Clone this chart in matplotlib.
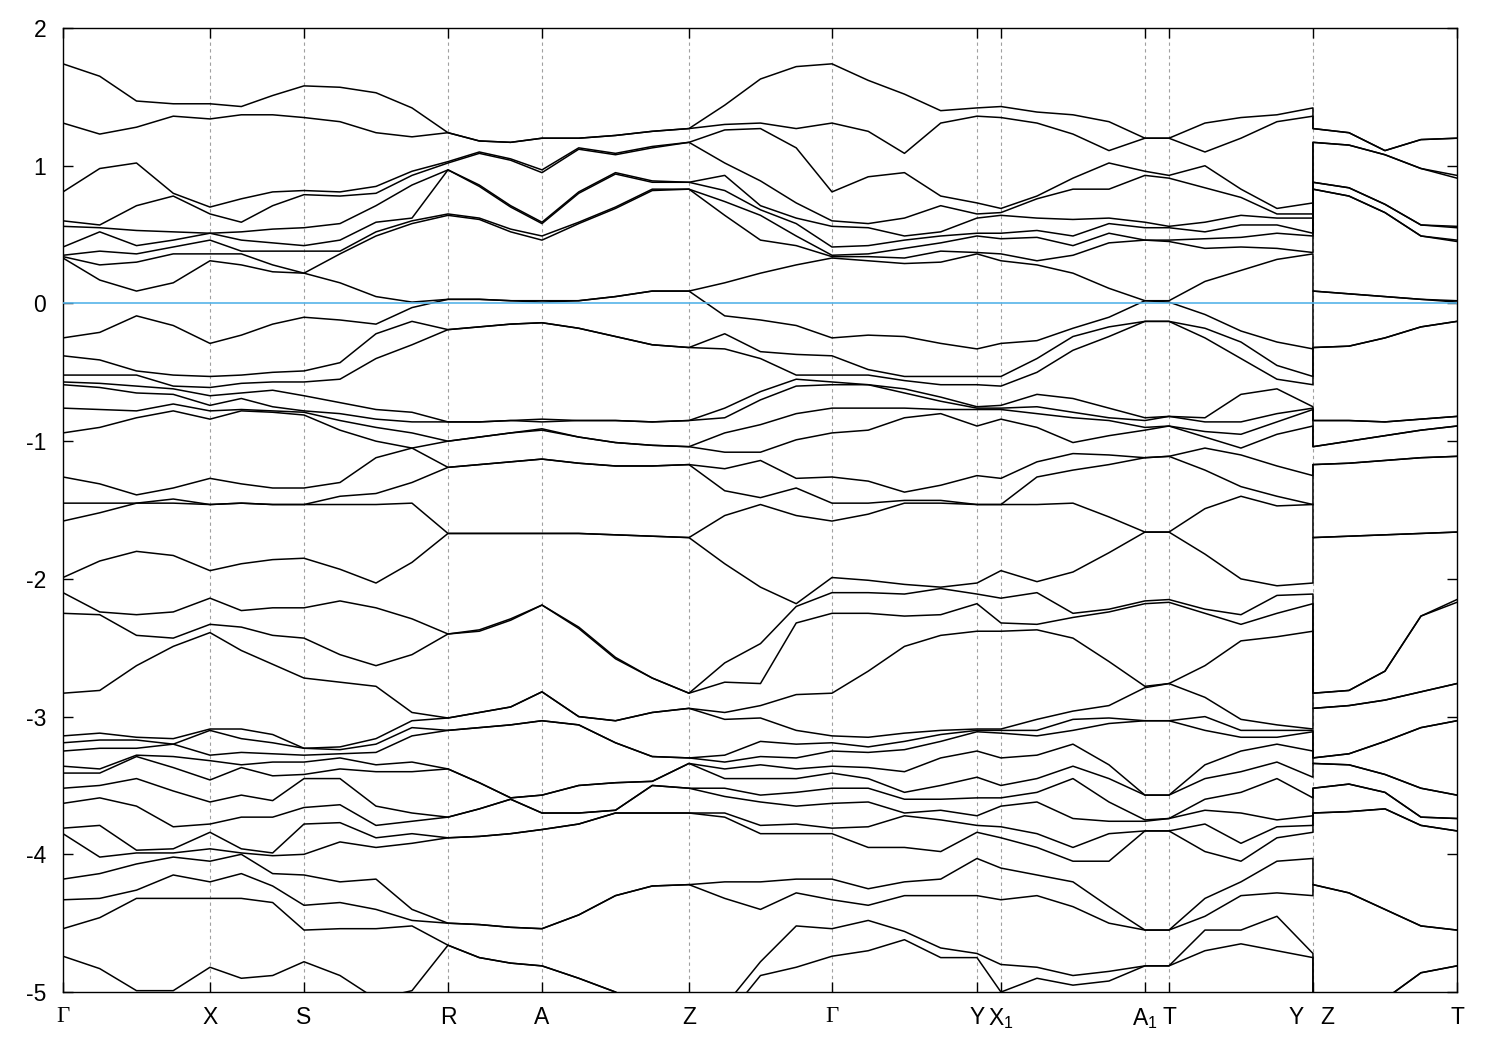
import numpy as np
import matplotlib
matplotlib.use('Agg')
import matplotlib.pyplot as plt

plt.rcParams['font.family'] = ['Liberation Sans', 'DejaVu Sans']
plt.rcParams['axes.unicode_minus'] = False

# path: high-symmetry points (distance along the path) and sampled points between them
k_points = [0, 147, 241, 385, 479, 626, 769, 914, 938, 1082, 1106, 1250, 1250, 1394]
n_between = [3, 2, 3, 2, 3, 3, 3, 0, 3, 0, 3, 0, 3]   # extra samples per segment

tick_pos = [0, 147, 241, 385, 479, 626, 769, 914, 938, 1082, 1106, 1250, 1394]
tick_lab = ['Γ', 'X', 'S', 'R', 'A', 'Z', 'Γ', 'Y', r'X$_\mathregular{1}$',
            r'A$_\mathregular{1}$', 'T', '', 'T']

# band energies (eV) read at each sample point, one list per k sample
G = [1.74, 1.31, 0.81, 0.60, 0.56, 0.41, 0.35, 0.34, 0.33,
     -0.25, -0.38, -0.52, -0.57, -0.59, -0.76, -0.94, -1.26, -1.45, -1.58, -1.99, -2.10, -2.25, -2.83,
     -3.14, -3.19, -3.25, -3.36, -3.41, -3.52, -3.63, -3.81, -3.85, -4.18, -4.33, -4.54, -4.74]
GX1 = [1.65, 1.23, 0.98, 0.57, 0.55, 0.52, 0.38, 0.28, 0.17,
       -0.21, -0.41, -0.52, -0.58, -0.61, -0.77, -0.90, -1.31, -1.45, -1.52, -1.87, -2.24, -2.26, -2.81,
       -3.12, -3.17, -3.23, -3.38, -3.41, -3.50, -3.59, -3.79, -4.02, -4.14, -4.32, -4.46, -4.83]
GX2 = [1.47, 1.28, 1.02, 0.71, 0.53, 0.42, 0.36, 0.30, 0.09,
       -0.09, -0.49, -0.52, -0.60, -0.65, -0.78, -0.83, -1.39, -1.45, -1.45, -1.80, -2.26, -2.41, -2.63,
       -3.15, -3.17, -3.23, -3.28, -3.29, -3.45, -3.65, -3.97, -3.99, -4.07, -4.26, -4.32, -4.99]
GX3 = [1.45, 1.36, 0.80, 0.78, 0.52, 0.46, 0.41, 0.36, 0.15,
       -0.16, -0.52, -0.60, -0.62, -0.66, -0.73, -0.78, -1.34, -1.42, -1.45, -1.83, -2.24, -2.43, -2.49,
       -3.16, -3.20, -3.20, -3.29, -3.37, -3.54, -3.80, -3.96, -3.99, -4.02, -4.15, -4.32, -4.99]
X = [1.45, 1.34, 0.70, 0.65, 0.51, 0.51, 0.46, 0.36, 0.31,
     -0.29, -0.53, -0.61, -0.67, -0.74, -0.78, -0.84, -1.27, -1.46, -1.46, -1.94, -2.14, -2.33, -2.39,
     -3.09, -3.10, -3.28, -3.32, -3.46, -3.62, -3.78, -3.84, -3.96, -4.05, -4.20, -4.32, -4.82]
XS1 = [1.43, 1.37, 0.76, 0.59, 0.52, 0.46, 0.38, 0.36, 0.28,
       -0.23, -0.52, -0.58, -0.65, -0.69, -0.77, -0.78, -1.31, -1.45, -1.45, -1.89, -2.23, -2.35, -2.52,
       -3.09, -3.16, -3.26, -3.35, -3.37, -3.57, -3.73, -3.96, -3.99, -4.00, -4.14, -4.32, -4.90]
XS2 = [1.51, 1.37, 0.81, 0.71, 0.54, 0.44, 0.38, 0.28, 0.23,
       -0.15, -0.50, -0.57, -0.63, -0.75, -0.78, -0.79, -1.34, -1.46, -1.46, -1.86, -2.21, -2.41, -2.62,
       -3.13, -3.19, -3.27, -3.33, -3.43, -3.61, -3.73, -3.99, -4.01, -4.14, -4.23, -4.35, -4.88]
S = [1.58, 1.35, 0.82, 0.79, 0.55, 0.42, 0.38, 0.22, 0.22,
     -0.10, -0.49, -0.57, -0.67, -0.78, -0.79, -0.81, -1.34, -1.46, -1.46, -1.85, -2.21, -2.43, -2.72,
     -3.23, -3.23, -3.28, -3.33, -3.42, -3.45, -3.66, -3.78, -4.00, -4.15, -4.37, -4.55, -4.78]
SR1 = [1.57, 1.32, 0.81, 0.78, 0.58, 0.46, 0.38, 0.36, 0.15,
       -0.12, -0.43, -0.55, -0.72, -0.80, -0.85, -0.92, -1.30, -1.40, -1.46, -1.93, -2.16, -2.55, -2.75,
       -3.22, -3.24, -3.27, -3.30, -3.38, -3.45, -3.64, -3.77, -3.91, -4.20, -4.35, -4.54, -4.88]
SR2 = [1.53, 1.24, 0.85, 0.80, 0.71, 0.59, 0.52, 0.49, 0.05,
       -0.15, -0.22, -0.40, -0.77, -0.84, -0.90, -1.00, -1.12, -1.38, -1.46, -2.03, -2.21, -2.63, -2.78,
       -3.16, -3.20, -3.26, -3.35, -3.40, -3.65, -3.79, -3.88, -3.95, -4.18, -4.40, -4.54, -5.05]
SR3 = [1.42, 1.21, 0.96, 0.93, 0.86, 0.62, 0.60, 0.58, 0.01, -0.03,
       -0.13, -0.30, -0.79, -0.86, -0.94, -1.05, -1.05, -1.30, -1.45, -1.88, -2.29, -2.55,
       -2.97, -3.03, -3.08, -3.14, -3.33, -3.40, -3.70, -3.76, -3.85, -3.92, -4.40, -4.48, -4.52, -4.99]
R = [1.24, 1.24, 1.03, 1.02, 0.97, 0.97, 0.65, 0.64, 0.03, 0.03,
     -0.19, -0.19, -0.86, -0.86, -1.00, -1.00, -1.19, -1.19, -1.67, -1.67, -2.40, -2.40,
     -3.01, -3.01, -3.10, -3.10, -3.38, -3.38, -3.73, -3.73, -3.88, -3.88, -4.50, -4.50, -4.66, -4.66]
RA1 = [1.18, 1.18, 1.10, 1.09, 0.86, 0.85, 0.62, 0.61, 0.03, 0.03,
       -0.17, -0.17, -0.86, -0.86, -0.97, -0.97, -1.17, -1.17, -1.67, -1.67, -2.38, -2.37,
       -2.97, -2.97, -3.08, -3.08, -3.48, -3.48, -3.67, -3.67, -3.87, -3.87, -4.51, -4.51, -4.75, -4.75]
RA2 = [1.17, 1.17, 1.05, 1.04, 0.71, 0.70, 0.54, 0.52, 0.02, 0.02,
       -0.15, -0.15, -0.85, -0.85, -0.94, -0.94, -1.15, -1.15, -1.67, -1.67, -2.30, -2.29,
       -2.93, -2.93, -3.06, -3.06, -3.59, -3.59, -3.60, -3.60, -3.85, -3.85, -4.53, -4.53, -4.79, -4.79]
A = [1.20, 1.20, 0.97, 0.95, 0.59, 0.58, 0.49, 0.46, 0.02, 0.01,
     -0.14, -0.14, -0.84, -0.86, -0.91, -0.92, -1.13, -1.13, -1.67, -1.67, -2.19, -2.19,
     -2.82, -2.82, -3.03, -3.03, -3.57, -3.57, -3.70, -3.70, -3.82, -3.82, -4.54, -4.54, -4.81, -4.81]
AZ1 = [1.20, 1.20, 1.13, 1.12, 0.81, 0.80, 0.59, 0.58, 0.02, 0.02,
       -0.18, -0.18, -0.85, -0.85, -0.97, -0.97, -1.16, -1.16, -1.67, -1.67, -2.36, -2.35,
       -3.00, -3.00, -3.06, -3.06, -3.50, -3.50, -3.70, -3.70, -3.78, -3.78, -4.44, -4.44, -4.90, -4.90]
AZ2 = [1.22, 1.22, 1.09, 1.08, 0.95, 0.94, 0.70, 0.69, 0.05, 0.05,
       -0.24, -0.24, -0.85, -0.85, -1.01, -1.01, -1.18, -1.18, -1.68, -1.68, -2.58, -2.57,
       -3.03, -3.03, -3.19, -3.19, -3.48, -3.48, -3.68, -3.68, -3.70, -3.70, -4.30, -4.30, -5.00, -5.00]
AZ3 = [1.25, 1.25, 1.14, 1.13, 0.89, 0.88, 0.83, 0.82, 0.09, 0.09,
       -0.30, -0.30, -0.86, -0.86, -1.03, -1.03, -1.18, -1.18, -1.69, -1.69, -2.72, -2.72,
       -2.97, -2.97, -3.29, -3.29, -3.47, -3.47, -3.50, -3.50, -3.70, -3.70, -4.23, -4.23, -5.15, -5.15]
Z = [1.27, 1.27, 1.17, 1.17, 0.88, 0.88, 0.83, 0.83, 0.09, 0.09,
     -0.32, -0.32, -0.85, -0.85, -1.04, -1.04, -1.17, -1.17, -1.70, -1.70, -2.83, -2.83,
     -2.94, -2.94, -3.30, -3.30, -3.34, -3.34, -3.52, -3.52, -3.70, -3.70, -4.22, -4.22, -5.25, -5.25]
ZG1 = [1.44, 1.30, 1.26, 1.02, 0.93, 0.82, 0.74, 0.64, 0.15,
       -0.09, -0.22, -0.33, -0.76, -0.83, -0.94, -1.08, -1.20, -1.36, -1.54, -1.89, -2.61, -2.75,
       -2.97, -3.02, -3.28, -3.33, -3.38, -3.45, -3.52, -3.58, -3.70, -3.73, -4.20, -4.32, -5.10, -5.20]
ZG2 = [1.63, 1.31, 1.27, 0.89, 0.71, 0.68, 0.64, 0.46, 0.22,
       -0.12, -0.35, -0.40, -0.64, -0.70, -0.88, -1.08, -1.14, -1.41, -1.46, -2.06, -2.47, -2.76,
       -2.92, -3.01, -3.18, -3.29, -3.35, -3.45, -3.57, -3.62, -3.79, -3.85, -4.20, -4.40, -4.78, -4.88]
ZG3 = [1.72, 1.27, 1.13, 0.73, 0.62, 0.58, 0.49, 0.42, 0.28,
       -0.16, -0.37, -0.52, -0.55, -0.60, -0.80, -0.99, -1.27, -1.34, -1.54, -2.18, -2.20, -2.32, -2.84,
       -3.10, -3.20, -3.30, -3.38, -3.45, -3.55, -3.65, -3.78, -3.85, -4.18, -4.28, -4.52, -4.82]
GY1 = [1.62, 1.25, 0.92, 0.58, 0.55, 0.42, 0.36, 0.34, 0.31,
       -0.23, -0.48, -0.52, -0.59, -0.59, -0.76, -0.92, -1.29, -1.45, -1.53, -2.01, -2.10, -2.25, -2.67,
       -3.15, -3.22, -3.26, -3.37, -3.45, -3.52, -3.62, -3.80, -3.95, -4.25, -4.37, -4.48, -4.70]
GY2 = [1.52, 1.09, 0.95, 0.62, 0.49, 0.46, 0.40, 0.33, 0.29,
       -0.24, -0.53, -0.56, -0.62, -0.65, -0.76, -0.83, -1.37, -1.43, -1.45, -2.04, -2.11, -2.27, -2.49,
       -3.12, -3.18, -3.24, -3.40, -3.55, -3.60, -3.70, -3.72, -3.95, -4.20, -4.30, -4.56, -4.62]
GY3 = [1.40, 1.31, 0.78, 0.71, 0.52, 0.49, 0.44, 0.38, 0.30,
       -0.29, -0.53, -0.59, -0.68, -0.71, -0.77, -0.80, -1.32, -1.43, -1.45, -2.06, -2.07, -2.26, -2.41,
       -3.10, -3.13, -3.18, -3.30, -3.50, -3.60, -3.68, -3.75, -3.98, -4.18, -4.30, -4.68, -4.75]
Y = [1.42, 1.36, 0.73, 0.65, 0.62, 0.51, 0.49, 0.37, 0.36,
     -0.33, -0.53, -0.59, -0.75, -0.76, -0.77, -0.89, -1.25, -1.46, -1.46, -2.03, -2.11, -2.18, -2.38,
     -3.09, -3.10, -3.11, -3.25, -3.44, -3.59, -3.72, -3.79, -3.84, -4.03, -4.30, -4.72, -4.75]
X1 = [1.43, 1.35, 0.69, 0.66, 0.64, 0.51, 0.47, 0.36, 0.31,
      -0.29, -0.53, -0.60, -0.74, -0.76, -0.77, -0.84, -1.27, -1.46, -1.46, -1.94, -2.14, -2.32, -2.38,
      -3.09, -3.10, -3.12, -3.30, -3.50, -3.59, -3.65, -3.80, -3.88, -4.10, -4.33, -4.80, -5.00]
XA1 = [1.39, 1.31, 0.78, 0.76, 0.62, 0.53, 0.48, 0.31, 0.28,
       -0.27, -0.40, -0.50, -0.66, -0.75, -0.80, -0.90, -1.15, -1.26, -1.46, -2.02, -2.10, -2.33, -2.37,
       -3.02, -3.10, -3.14, -3.28, -3.45, -3.55, -3.62, -3.85, -3.95, -4.15, -4.30, -4.82, -4.90]
XA2 = [1.37, 1.23, 0.91, 0.83, 0.61, 0.49, 0.42, 0.35, 0.22,
       -0.18, -0.24, -0.34, -0.69, -0.79, -0.83, -1.01, -1.09, -1.21, -1.45, -1.95, -2.25, -2.28, -2.43,
       -2.96, -3.02, -3.10, -3.20, -3.36, -3.45, -3.74, -3.95, -4.05, -4.20, -4.38, -4.88, -4.95]
XA3 = [1.32, 1.11, 1.02, 0.83, 0.62, 0.58, 0.51, 0.44, 0.11,
       -0.10, -0.17, -0.24, -0.76, -0.83, -0.85, -0.96, -1.10, -1.17, -1.55, -1.81, -2.22, -2.24, -2.60,
       -2.92, -3.01, -3.05, -3.35, -3.45, -3.62, -3.76, -3.85, -4.05, -4.38, -4.50, -4.85, -4.92]
A1 = [1.20, 1.20, 0.96, 0.93, 0.59, 0.55, 0.46, 0.46, 0.02, 0.02,
      -0.13, -0.13, -0.83, -0.85, -0.90, -0.92, -1.12, -1.12, -1.66, -1.66, -2.16, -2.18, -2.78, -2.79,
      -3.03, -3.03, -3.57, -3.57, -3.75, -3.76, -3.83, -3.83, -4.55, -4.55, -4.81, -4.81]
T = [1.20, 1.20, 0.93, 0.91, 0.56, 0.55, 0.46, 0.45, 0.02, 0.01,
     -0.13, -0.13, -0.82, -0.82, -0.89, -0.89, -1.11, -1.11, -1.66, -1.66, -2.15, -2.17, -2.76, -2.76,
     -3.03, -3.03, -3.57, -3.57, -3.74, -3.74, -3.83, -3.83, -4.55, -4.55, -4.81, -4.81]
TY1 = [1.31, 1.10, 1.00, 0.84, 0.59, 0.52, 0.47, 0.40, 0.16,
       -0.08, -0.18, -0.25, -0.83, -0.86, -0.93, -0.97, -1.05, -1.21, -1.49, -1.82, -2.22, -2.25, -2.63, -2.86,
       -3.00, -3.10, -3.35, -3.45, -3.60, -3.68, -3.78, -3.98, -4.32, -4.45, -4.55, -4.70]
TY2 = [1.35, 1.20, 0.83, 0.77, 0.64, 0.57, 0.48, 0.41, 0.24,
       -0.20, -0.28, -0.40, -0.66, -0.86, -0.95, -1.05, -1.10, -1.33, -1.40, -2.00, -2.26, -2.33, -2.45,
       -3.02, -3.10, -3.15, -3.25, -3.40, -3.55, -3.70, -3.92, -4.05, -4.20, -4.30, -4.55, -4.65]
TY3 = [1.37, 1.32, 0.69, 0.65, 0.62, 0.57, 0.51, 0.40, 0.32,
       -0.28, -0.45, -0.55, -0.62, -0.80, -0.86, -0.95, -1.18, -1.40, -1.47, -2.05, -2.12, -2.25, -2.42,
       -3.06, -3.10, -3.15, -3.20, -3.33, -3.45, -3.75, -3.80, -3.88, -4.05, -4.28, -4.45, -4.70]
ZT1 = [1.24, 1.24, 1.15, 1.15, 0.84, 0.84, 0.78, 0.78, 0.07, 0.07,
       -0.31, -0.31, -0.85, -0.85, -1.00, -1.00, -1.16, -1.16, -1.69, -1.69, -2.81, -2.81,
       -2.92, -2.92, -3.27, -3.27, -3.35, -3.35, -3.49, -3.49, -3.69, -3.69, -4.28, -4.28, -5.20, -5.20]
ZT2 = [1.11, 1.11, 1.08, 1.08, 0.72, 0.72, 0.66, 0.66, 0.05, 0.05,
       -0.25, -0.25, -0.86, -0.86, -0.96, -0.96, -1.14, -1.14, -1.68, -1.68, -2.67, -2.67,
       -2.88, -2.88, -3.18, -3.18, -3.42, -3.42, -3.55, -3.55, -3.67, -3.67, -4.40, -4.40, -5.05, -5.05]
ZT3 = [1.19, 1.19, 0.98, 0.98, 0.57, 0.57, 0.49, 0.49, 0.03, 0.03,
       -0.17, -0.17, -0.84, -0.84, -0.92, -0.92, -1.12, -1.12, -1.67, -1.67, -2.27, -2.27,
       -2.82, -2.82, -3.08, -3.08, -3.52, -3.52, -3.73, -3.73, -3.79, -3.79, -4.52, -4.52, -4.86, -4.86]

columns = [G, GX1, GX2, GX3, X, XS1, XS2, S, SR1, SR2, SR3, R, RA1, RA2, A,
           AZ1, AZ2, AZ3, Z, ZG1, ZG2, ZG3, G, GY1, GY2, GY3, Y, X1,
           XA1, XA2, XA3, A1, T, TY1, TY2, TY3, Y, Z, ZT1, ZT2, ZT3, T]

# k value of every sample
kk = [k_points[0]]
for a, b, n in zip(k_points[:-1], k_points[1:], n_between):
    kk.extend(np.linspace(a, b, n + 2)[1:])
kk = np.array(kk)

# band index = energy order at each k
nb = max(len(c) for c in columns)
bands = np.full((len(columns), nb), -5.6)
for i, c in enumerate(columns):
    bands[i, :len(c)] = sorted(c, reverse=True)

fig = plt.figure(figsize=(15, 10.5), dpi=100)
ax = fig.add_axes([0.042, 0.0552, 0.9293, 0.9181])

for kp in tick_pos[1:-1]:
    ax.axvline(kp, color='#a0a0a0', lw=0.8, ls=(0, (3, 3)), zorder=1)

for b in range(nb):
    ax.plot(kk, bands[:, b], color='black', lw=1.1, zorder=2)

ax.axhline(0, color='#56b4e9', lw=1.2, zorder=3)

ax.set_xlim(0, 1394)
ax.set_ylim(-5, 2)
ax.set_xticks(tick_pos)
ax.set_xticklabels(tick_lab)
ax.set_xticks([1233, 1264], ['Y', 'Z'], minor=True)
ax.set_yticks(range(-5, 3))
ax.set_yticklabels([str(v) for v in range(-5, 3)])

for i in (0, 6):
    ax.get_xticklabels()[i].set_fontfamily(['Liberation Serif', 'DejaVu Serif'])
    ax.get_xticklabels()[i].set_fontsize(18)

ax.tick_params(which='major', direction='in', length=7.5, width=1.0,
               top=True, right=True, labelsize=16.5)
ax.tick_params(axis='x', which='minor', length=0, labelsize=16.5)
ax.tick_params(axis='x', which='both', pad=10)
ax.tick_params(axis='y', pad=12)
for s in ax.spines.values():
    s.set_linewidth(1.0)

fig.savefig('out.png', dpi=100, facecolor='white')
